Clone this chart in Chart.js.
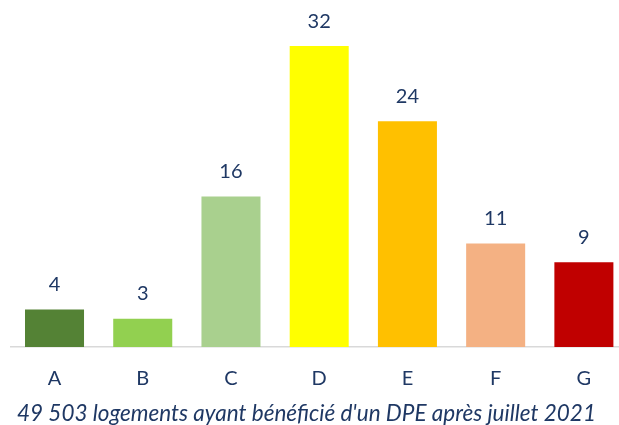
<!DOCTYPE html>
<html>
<head>
<meta charset="utf-8">
<script src="https://cdn.jsdelivr.net/npm/chart.js@4/dist/chart.umd.min.js"></script>
<style>
  html, body { margin: 0; padding: 0; background: #fff; overflow: hidden; }
  #wrap { position: absolute; left: 0; top: 0; width: 640px; height: 425px; }
</style>
</head>
<body>
<div id="wrap"><canvas id="c" width="640" height="425"></canvas></div>
<script>
// Energy performance classes and share of dwellings (%)
const classes = ['A', 'B', 'C', 'D', 'E', 'F', 'G'];
const shares = [4, 3, 16, 32, 24, 11, 9];
const barColors = ['#548235', '#92D050', '#A9D08E', '#FFFF00', '#FFC000', '#F4B183', '#C00000'];
const caption = "49 503 logements ayant bénéficié d'un DPE après juillet 2021";

const navy = '#1F3864';

// Writes each bar's value just above it, and the caption under the axis
const annotations = {
  id: 'annotations',
  afterDatasetsDraw(chart) {
    const ctx = chart.ctx;
    const meta = chart.getDatasetMeta(0);
    ctx.save();
    ctx.font = '20px Lato';
    ctx.fillStyle = navy;
    ctx.textAlign = 'center';
    ctx.textBaseline = 'middle';
    meta.data.forEach((bar, i) => {
      ctx.fillText(String(shares[i]), bar.x, bar.y - 25);
    });
    ctx.font = 'italic 22.5px Lato';
    ctx.textAlign = 'left';
    ctx.fillText(caption, 17, 414);
    ctx.restore();
  }
};

new Chart(document.getElementById('c'), {
  type: 'bar',
  data: {
    labels: classes,
    datasets: [{
      data: shares,
      backgroundColor: barColors,
      borderWidth: 0,
      categoryPercentage: 1,
      barPercentage: 0.669
    }]
  },
  options: {
    responsive: false,
    animation: false,
    layout: { padding: { left: 10.4, right: 12, top: 17.9, bottom: 14 } },
    plugins: { legend: { display: false }, tooltip: { enabled: false } },
    scales: {
      x: {
        grid: { display: false, drawTicks: false },
        border: { display: true, color: '#D9D9D9', width: 1.5 },
        ticks: { color: navy, font: { family: 'Lato', size: 20 }, padding: 20 }
      },
      y: {
        display: false,
        min: 0,
        max: 35
      }
    }
  },
  plugins: [annotations]
});
</script>
</body>
</html>
